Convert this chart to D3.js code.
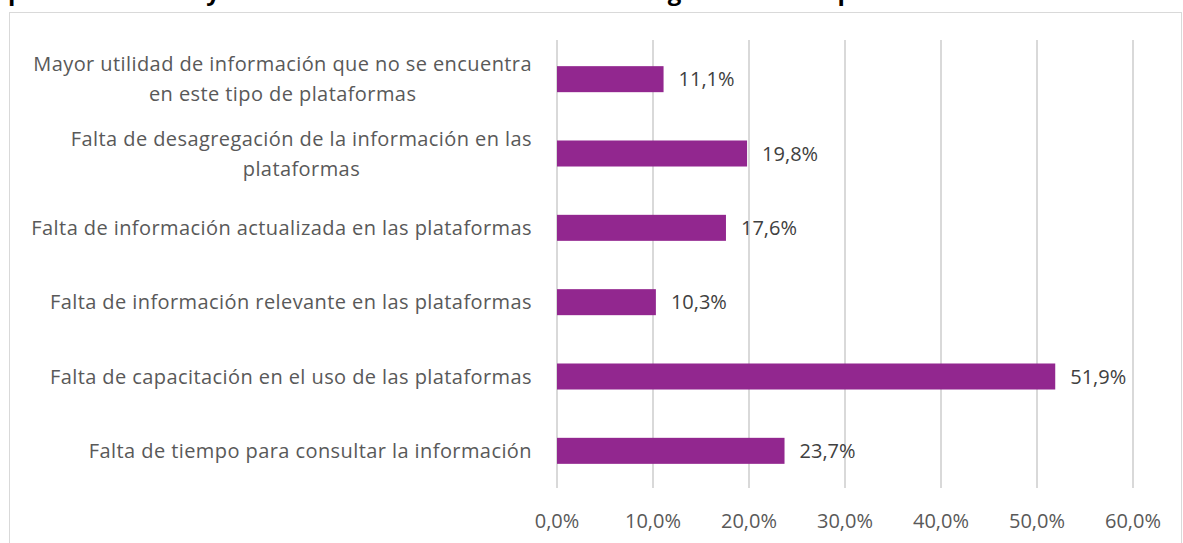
<!DOCTYPE html>
<html lang="es">
<head>
    <meta charset="UTF-8">
    <title>Barreras en el uso de plataformas</title>
    <style>
        body { margin: 0; background: #fff; }
        svg text { font-family: 'Open Sans', sans-serif; }
    </style>
    <script src="https://d3js.org/d3.v7.min.js"></script>
</head>
<body>
    <svg width="1183" height="543"></svg>
    <script>
        // datos del gráfico (de arriba hacia abajo)
        const categories = [
            ["Mayor utilidad de información que no se encuentra", "en este tipo de plataformas"],
            ["Falta de desagregación de la información en las", "plataformas"],
            ["Falta de información actualizada en las plataformas"],
            ["Falta de información relevante en las plataformas"],
            ["Falta de capacitación en el uso de las plataformas"],
            ["Falta de tiempo para consultar la información"]
        ];
        const values = [11.1, 19.8, 17.6, 10.3, 51.9, 23.7];
        const ticks = [0, 10, 20, 30, 40, 50, 60];
        const titleText = "por el cual no hay un uso efectivo de la información en gestión de las plataformas";

        const width = 1183, height = 543;
        const svg = d3.select("svg");

        const locale = d3.formatLocale({ decimal: ",", thousands: ".", grouping: [3], currency: ["", "€"] });
        const pct = locale.format(".1f");

        // titulo (cortado arriba en el original)
        svg.append("text")
            .attr("x", 8)
            .attr("y", 0)
            .style("font-size", "24px")
            .style("font-weight", "700")
            .style("fill", "#000")
            .text(titleText);

        // marco del gráfico
        svg.append("rect")
            .attr("x", 9.5).attr("y", 12.5)
            .attr("width", 1172).attr("height", 540)
            .attr("fill", "none")
            .attr("stroke", "#d9d9d9");

        const x = d3.scaleLinear().domain([0, 60]).range([557, 1133]);
        const y = d3.scaleBand()
            .domain(d3.range(categories.length))
            .range([42, 488])
            .paddingInner(0.65)
            .paddingOuter(0.325);

        // líneas de cuadrícula
        svg.append("g")
            .selectAll("line")
            .data(ticks)
            .enter().append("line")
            .attr("x1", d => x(d)).attr("x2", d => x(d))
            .attr("y1", 40).attr("y2", 488)
            .attr("stroke", "#d9d9d9")
            .attr("stroke-width", 2);

        // etiquetas del eje x
        svg.append("g")
            .selectAll("text")
            .data(ticks)
            .enter().append("text")
            .attr("x", d => x(d))
            .attr("y", 521)
            .attr("dy", "0.35em")
            .attr("text-anchor", "middle")
            .style("font-size", "20px")
            .style("fill", "#595959")
            .text(d => pct(d) + "%");

        // barras
        svg.append("g")
            .selectAll("rect")
            .data(values)
            .enter().append("rect")
            .attr("x", x(0))
            .attr("y", (d, i) => y(i))
            .attr("width", d => x(d) - x(0))
            .attr("height", y.bandwidth())
            .attr("fill", "#92278f");

        // valores
        svg.append("g")
            .selectAll("text")
            .data(values)
            .enter().append("text")
            .attr("x", d => x(d) + 15)
            .attr("y", (d, i) => y(i) + y.bandwidth() / 2)
            .attr("dy", "0.35em")
            .style("font-size", "20px")
            .style("fill", "#404040")
            .text(d => pct(d) + "%");

        // etiquetas de categorías
        const lineH = 30;
        const labels = svg.append("g")
            .selectAll("text")
            .data(categories)
            .enter().append("text")
            .style("font-size", "20px")
            .style("letter-spacing", "0.42px")
            .style("fill", "#595959")
            .attr("text-anchor", "middle");

        labels.each(function(lines, i) {
            const t = d3.select(this);
            const cy = y(i) + y.bandwidth() / 2;
            const y0 = cy - (lines.length - 1) * lineH / 2;
            lines.forEach((l, k) => {
                t.append("tspan").attr("x", 0).attr("y", y0 + k * lineH).attr("dy", "0.35em").text(l);
            });
            // alinear bloque a la derecha en x=532, líneas centradas
            const w = this.getBBox().width;
            t.attr("transform", `translate(${532 - w / 2},0)`);
        });
    </script>
</body>
</html>
